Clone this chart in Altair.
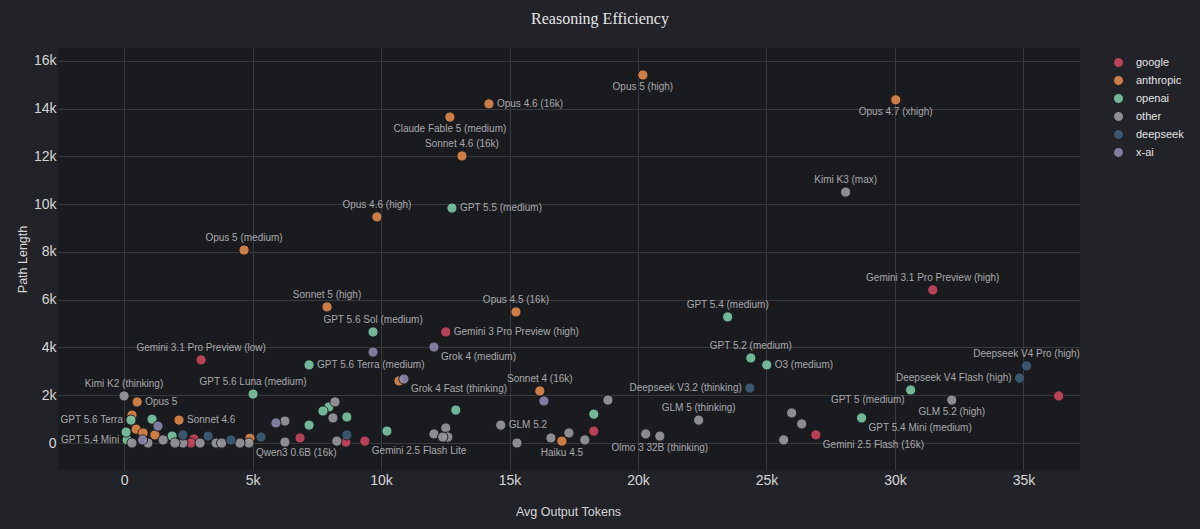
import altair as alt
import pandas as pd

ORGS = ["google", "anthropic", "openai", "other", "deepseek", "x-ai"]
COLORS = ["#c9475f", "#e0884a", "#7cc7a6", "#9a9a9e", "#3e5d78", "#8a87ad"]

# labelled models
lab_names = [
    "Opus 5 (high)", "Opus 4.6 (16k)", "Claude Fable 5 (medium)", "Sonnet 4.6 (16k)",
    "Opus 4.7 (xhigh)", "Kimi K3 (max)", "Opus 4.6 (high)", "GPT 5.5 (medium)",
    "Opus 5 (medium)", "Gemini 3.1 Pro Preview (high)", "Sonnet 5 (high)", "Opus 4.5 (16k)",
    "GPT 5.6 Sol (medium)", "Gemini 3 Pro Preview (high)", "Grok 4 (medium)",
    "Gemini 3.1 Pro Preview (low)", "GPT 5.6 Terra (medium)", "Grok 4 Fast (thinking)",
    "GPT 5.6 Luna (medium)", "Sonnet 4 (16k)", "GPT 5.4 (medium)", "GPT 5.2 (medium)",
    "O3 (medium)", "Deepseek V3.2 (thinking)", "Deepseek V4 Pro (high)",
    "Deepseek V4 Flash (high)", "GPT 5 (medium)", "GLM 5.2 (high)", "GPT 5.4 Mini (medium)",
    "Gemini 2.5 Flash (16k)", "GLM 5 (thinking)", "Olmo 3 32B (thinking)", "GLM 5.2",
    "Haiku 4.5", "Gemini 2.5 Flash Lite", "Qwen3 0.6B (16k)", "Kimi K2 (thinking)",
    "Opus 5", "GPT 5.6 Terra", "Sonnet 4.6", "GPT 5.4 Mini",
]
lab_orgs = [
    "anthropic", "anthropic", "anthropic", "anthropic",
    "anthropic", "other", "anthropic", "openai",
    "anthropic", "google", "anthropic", "anthropic",
    "openai", "google", "x-ai",
    "google", "openai", "x-ai",
    "openai", "anthropic", "openai", "openai",
    "openai", "deepseek", "deepseek",
    "deepseek", "openai", "other", "openai",
    "google", "other", "other", "other",
    "anthropic", "google", "other", "other",
    "anthropic", "openai", "anthropic", "openai",
]
lab_tokens = [
    20190, 14200, 12680, 13150,
    30030, 28080, 9840, 12760,
    4670, 31470, 7900, 15250,
    9690, 12520, 12060,
    3000, 7200, 10890,
    5020, 16180, 23490, 24390,
    25010, 24350, 35120,
    34850, 30610, 32210, 28700,
    26920, 22360, 20850, 14660,
    17040, 9370, 4860, 0,
    510, 270, 2140, 120,
]
lab_path = [
    15410, 14200, 13650, 12020,
    14370, 10510, 9470, 9840,
    8080, 6410, 5700, 5490,
    4650, 4650, 4020,
    3480, 3270, 2680,
    2050, 2180, 5280, 3560,
    3270, 2300, 3230,
    2720, 2220, 1800, 1050,
    340, 960, 290, 750,
    80, 80, 0, 1970,
    1720, 960, 960, 130,
]

# unlabelled models
unl_orgs = [
    "x-ai", "anthropic", "x-ai", "other", "google", "other", "other", "other", "other",
    "other", "other", "other", "other", "openai", "openai", "google", "other", "other",
    "other", "other", "other", "openai", "openai", "other", "openai", "openai", "x-ai",
    "other", "openai", "deepseek", "google", "other", "google", "other", "deepseek",
    "other", "anthropic", "deepseek", "other", "other", "deepseek", "other", "google",
    "google", "deepseek", "other", "other", "openai", "other", "other", "x-ai", "other",
    "openai", "anthropic", "anthropic", "anthropic", "anthropic", "openai", "x-ai",
]
unl_tokens = [
    9690, 10700, 16340, 18830, 36370, 20300, 25980, 26370, 25670,
    12520, 12060, 12600, 12400, 12910, 18280, 18280, 17310, 16610,
    17930, 15290, 8210, 7970, 7740, 8130, 8670, 7200, 5910,
    6260, 10230, 8670, 8630, 8280, 6850, 6260, 5330,
    4510, 4900, 4160, 3580, 3800, 3270, 2960, 2720,
    2600, 2290, 2290, 1980, 1870, 1520, 930, 720, 310,
    80, 310, 470, 740, 1200, 1090, 1320,
]
unl_path = [
    3810, 2600, 1760, 1800, 1970, 380, 1260, 800, 130,
    630, 380, 250, 250, 1380, 1210, 500, 420, 210,
    130, 0, 1720, 1510, 1340, 1050, 1090, 750, 840,
    920, 500, 340, 40, 80, 210, 40, 250,
    0, 200, 130, 0, 0, 290, 0, 170,
    0, 340, 0, 0, 290, 130, 0, 130, 0,
    460, 1170, 580, 420, 340, 1000, 710,
]

# label placement groups
ABOVE = ["Sonnet 4.6 (16k)", "Kimi K3 (max)", "Opus 4.6 (high)", "Opus 5 (medium)",
         "Gemini 3.1 Pro Preview (high)", "Sonnet 5 (high)", "Opus 4.5 (16k)",
         "GPT 5.6 Sol (medium)", "Gemini 3.1 Pro Preview (low)", "GPT 5.6 Luna (medium)",
         "Sonnet 4 (16k)", "GPT 5.4 (medium)", "GPT 5.2 (medium)", "Deepseek V4 Pro (high)",
         "GLM 5 (thinking)", "Kimi K2 (thinking)"]
BELOW = ["Opus 5 (high)", "Claude Fable 5 (medium)", "Opus 4.7 (xhigh)", "GLM 5.2 (high)",
         "Olmo 3 32B (thinking)", "Haiku 4.5"]
RIGHT = ["Opus 4.6 (16k)", "GPT 5.5 (medium)", "Gemini 3 Pro Preview (high)",
         "GPT 5.6 Terra (medium)", "O3 (medium)", "GLM 5.2", "Opus 5", "Sonnet 4.6"]
LEFT = ["Deepseek V3.2 (thinking)", "Deepseek V4 Flash (high)", "GPT 5.6 Terra", "GPT 5.4 Mini"]
BELOW_RIGHT = ["Grok 4 (medium)", "Grok 4 Fast (thinking)", "GPT 5.4 Mini (medium)",
               "Gemini 2.5 Flash (16k)", "Gemini 2.5 Flash Lite", "Qwen3 0.6B (16k)"]
BELOW_LEFT = ["GPT 5 (medium)"]


def place(n):
    for key, grp in (("tc", ABOVE), ("bc", BELOW), ("mr", RIGHT), ("ml", LEFT),
                     ("br", BELOW_RIGHT), ("bl", BELOW_LEFT)):
        if n in grp:
            return key
    return ""


df = pd.DataFrame({
    "model": lab_names + [""] * len(unl_orgs),
    "org": lab_orgs + unl_orgs,
    "tokens": lab_tokens + unl_tokens,
    "path": lab_path + unl_path,
})
df["rank"] = df["org"].map({o: i for i, o in enumerate(ORGS)})
df["pos"] = df["model"].map(place)

xs = alt.Scale(domain=[-2570, 37200], nice=False, zero=False)
ys = alt.Scale(domain=[-1130, 16540], nice=False, zero=False)

base = alt.Chart(df).encode(
    x=alt.X("tokens:Q", scale=xs,
            axis=alt.Axis(title="Avg Output Tokens", values=list(range(0, 35001, 5000)),
                          labelExpr="datum.value == 0 ? '0' : (datum.value/1000) + 'k'",
                          labelPadding=3, titleX=510, titleY=41, titleBaseline="middle")),
    y=alt.Y("path:Q", scale=ys,
            axis=alt.Axis(title="Path Length", values=list(range(0, 16001, 2000)),
                          labelExpr="datum.value == 0 ? '0' : (datum.value/1000) + 'k'",
                          labelPadding=2, titleX=-36, titleY=211, titleAngle=-90,
                          titleAlign="center", titleBaseline="middle")),
)

points = base.mark_point(filled=True, size=105, opacity=0.9, stroke="#1a1b1f",
                         strokeWidth=1, strokeOpacity=1).encode(
    color=alt.Color("org:N", scale=alt.Scale(domain=ORGS, range=COLORS),
                    legend=alt.Legend(title=None, orient="none", legendX=1055, legendY=9,
                                      symbolType="circle", symbolSize=100,
                                      labelColor="#e4e4e4", labelFontSize=11,
                                      labelFont="Liberation Sans", rowPadding=3,
                                      labelOffset=12, padding=0,
                                      symbolStrokeColor="#1a1b1f", symbolStrokeWidth=1,
                                      symbolOpacity=0.9)),
    order=alt.Order("rank:Q"),
)

TEXT_STYLE = dict(font="Liberation Sans", fontSize=10, color="#a9a9ac")
specs = {
    "tc": dict(align="center", baseline="bottom", dy=-7),
    "bc": dict(align="center", baseline="top", dy=7),
    "mr": dict(align="left", baseline="middle", dx=8),
    "ml": dict(align="right", baseline="middle", dx=-8),
    "br": dict(align="left", baseline="top", dx=7, dy=5),
    "bl": dict(align="right", baseline="top", dx=-6, dy=5),
}
texts = [
    base.mark_text(**TEXT_STYLE, **s).encode(text="model:N")
    .transform_filter(alt.datum.pos == k)
    for k, s in specs.items()
]

chart = alt.layer(points, *texts).properties(
    width=1022, height=422,
    autosize=alt.AutoSizeParams(type="none"),
    padding={"left": 58, "top": 48, "right": 120, "bottom": 59},
    background="#222329",
    title=alt.TitleParams("Reasoning Efficiency", font="Liberation Serif", fontSize=16,
                          fontWeight="normal", color="#e6e6e6", anchor="middle",
                          frame="group", dx=31, offset=21),
).configure_view(fill="#1a1b1f", stroke=None).configure_axis(
    domain=False, ticks=False, gridColor="#393a40", gridWidth=1,
    labelColor="#d6d6d6", labelFontSize=14, labelFont="Liberation Sans",
    titleColor="#d6d6d6", titleFontSize=12.5, titleFontWeight="normal",
    titleFont="Liberation Sans",
)

chart.save("out.html", embed_options={"renderer": "svg", "actions": False})
